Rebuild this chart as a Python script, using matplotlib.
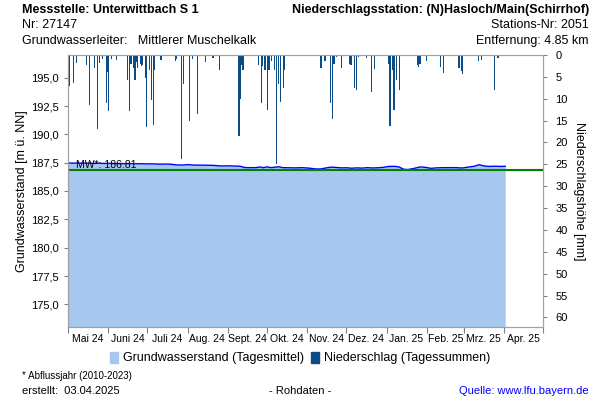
import numpy as np
import matplotlib
matplotlib.use("Agg")
import matplotlib.pyplot as plt
from matplotlib.patches import Patch
from datetime import date, timedelta

plt.rcParams['font.family'] = ['Liberation Sans', 'DejaVu Sans']

# Daten
start = date(2024, 5, 1)

# Grundwasserstand (Tag seit 01.05.2024, m ü. NN)
gw_days = [0, 4, 8, 12, 16, 20, 24, 28, 32, 36, 40, 44, 48, 52, 56, 60, 64, 68, 72, 76,
           80, 84, 88, 92, 96, 100, 104, 108, 112, 116, 120, 124, 128, 132, 136, 140, 144,
           148, 150, 153, 156, 160, 162, 165, 170, 175, 180, 185, 190, 194, 198, 202, 205,
           210, 214, 218, 222, 226, 230, 234, 238, 242, 246, 250, 254, 258, 261, 264, 268,
           271, 275, 279, 283, 288, 293, 298, 303, 307, 312, 316, 320, 324, 328, 332, 336]
gw_level = [187.47, 187.46, 187.47, 187.45, 187.46, 187.44, 187.45, 187.43, 187.44, 187.42,
            187.43, 187.41, 187.42, 187.40, 187.41, 187.39, 187.40, 187.38, 187.37, 187.38,
            187.35, 187.30, 187.29, 187.33, 187.29, 187.28, 187.28, 187.27, 187.26, 187.22,
            187.21, 187.22, 187.20, 187.19, 187.07, 187.06, 187.06, 187.12, 187.05, 187.13,
            187.06, 187.11, 187.14, 187.06, 187.05, 187.04, 187.06, 187.02, 186.95, 186.94,
            187.03, 187.10, 187.09, 187.04, 187.05, 187.01, 187.04, 187.02, 187.06, 187.03,
            187.05, 187.08, 187.16, 187.18, 187.14, 186.92, 186.89, 186.95, 187.05, 187.13,
            187.08, 187.00, 187.04, 187.06, 187.06, 187.06, 187.03, 187.10, 187.18, 187.32,
            187.20, 187.17, 187.19, 187.17, 187.18]
mw = 186.81

# Niederschlag (Tag seit 01.05.2024, mm)
rain_days = [1, 4, 6, 14, 16, 20, 22, 24, 26, 29, 30, 31, 33, 37, 45, 47, 48, 50, 51, 52,
             53, 55, 56, 57, 59, 60, 62, 64, 65, 66, 71, 82, 83, 87, 88, 93, 95, 99, 105,
             111, 116, 131, 132, 133, 134, 146, 148, 149, 151, 153, 154, 156, 158, 160,
             161, 163, 165, 166, 175, 194, 197, 201, 203, 204, 206, 210, 216, 217, 220,
             221, 223, 229, 233, 235, 246, 247, 249, 250, 252, 254, 268, 269, 270, 275,
             286, 288, 300, 302, 303, 315, 317, 327, 330]
rain_mm = [7.2, 6.5, 1.9, 2.3, 11.4, 3.0, 17.0, 1.9, 1.0, 11.0, 3.8, 12.8, 1.0, 1.2, 5.7,
           12.7, 2.0, 3.0, 5.7, 1.5, 3.0, 2.0, 2.5, 2.2, 5.3, 16.4, 3.5, 10.3, 16.0, 3.5,
           1.2, 1.3, 1.0, 23.8, 6.6, 15.0, 1.0, 13.5, 1.7, 0.6, 3.5, 18.6, 10.0, 2.3, 3.5,
           2.3, 11.0, 2.6, 3.5, 12.6, 3.5, 1.3, 3.5, 25.0, 6.6, 10.7, 7.6, 3.5, 0.3, 3.0,
           1.3, 11.0, 14.7, 2.0, 0.5, 3.0, 2.0, 2.3, 7.5, 8.0, 0.5, 0.8, 8.4, 3.2, 2.0,
           16.2, 3.5, 12.6, 5.7, 8.0, 2.3, 2.7, 2.0, 1.3, 2.7, 4.2, 3.0, 3.7, 4.3, 1.3,
           1.2, 8.0, 0.8]

month_labels = ["Mai 24", "Juni 24", "Juli 24", "Aug. 24", "Sept. 24", "Okt. 24",
                "Nov. 24", "Dez. 24", "Jan. 25", "Feb. 25", "Mrz. 25", "Apr. 25"]

gw_dates = [start + timedelta(days=d) for d in gw_days]
rain_dates = [start + timedelta(days=d) for d in rain_days]

fig = plt.figure(figsize=(6, 4), dpi=100)
ax = fig.add_axes([0.1133, 0.1825, 0.7917, 0.68])

ax.fill_between(gw_dates, 170, gw_level, color='#a6c8ef', lw=0)
ax.plot(gw_dates, gw_level, color='#0000ff', lw=1)
ax.axhline(mw, color='#008000', lw=1.5)
ax.text(start + timedelta(days=6), 187.25, "MW*: %.2f" % mw, fontsize=7.5,
        va='center', ha='left')

ax.set_ylim(173.0, 197.0)
ax.set_yticks(np.arange(175, 196, 2.5))
ax.set_yticklabels([("%.1f" % v).replace('.', ',') for v in np.arange(175, 196, 2.5)])
ax.set_ylabel("Grundwasserstand [m ü. NN]", fontsize=9, labelpad=2)

# x-Achse: Monatsanfang als Striche, Beschriftung Monatsmitte
month_starts = [date(2024 + (4 + i) // 12, (4 + i) % 12 + 1, 1) for i in range(13)]
mids = [month_starts[i] + (month_starts[i + 1] - month_starts[i]) / 2 for i in range(12)]
ax.set_xlim(month_starts[0], month_starts[-1])
ax.set_xticks(month_starts)
ax.set_xticklabels([])
ax.set_xticks(mids, minor=True)
ax.set_xticklabels(month_labels, minor=True, fontsize=7.5)
ax.tick_params(axis='x', which='major', length=4, color='#808080')
ax.tick_params(axis='x', which='minor', length=0, pad=5)
ax.tick_params(axis='y', labelsize=8, length=3, color='#808080')

ax2 = ax.twinx()
ax2.bar(rain_dates, rain_mm, width=0.9, color='#0b4c86', lw=0, align='edge')
ax2.set_ylim(62.2, 0)
ax2.set_yticks(np.arange(0, 61, 5))
ax2.tick_params(axis='y', labelsize=8, length=3, color='#808080', pad=6)
ax2.set_ylabel("Niederschlagshöhe [mm]", fontsize=9, rotation=-90, labelpad=12)
ax2.set_xlim(month_starts[0], month_starts[-1])

for a in (ax, ax2):
    for s in a.spines.values():
        s.set_color('#a0a0a0')

# Kopf
fig.text(22 / 600, 1 - 10 / 400, "Messstelle: Unterwittbach S 1", fontsize=9,
         fontweight='bold', va='center')
fig.text(22 / 600, 1 - 25 / 400, "Nr: 27147", fontsize=9, va='center')
fig.text(22 / 600, 1 - 41 / 400, "Grundwasserleiter:   Mittlerer Muschelkalk", fontsize=9,
         va='center')
fig.text(589 / 600, 1 - 10 / 400, "Niederschlagsstation: (N)Hasloch/Main(Schirrhof)",
         fontsize=9, fontweight='bold', va='center', ha='right')
fig.text(589 / 600, 1 - 25 / 400, "Stations-Nr: 2051", fontsize=9, va='center', ha='right')
fig.text(589 / 600, 1 - 41 / 400, "Entfernung: 4.85 km", fontsize=9, va='center', ha='right')

# Legende
handles = [Patch(color='#a6c8ef', label="Grundwasserstand (Tagesmittel)"),
           Patch(color='#0b4c86', label="Niederschlag (Tagessummen)")]
fig.legend(handles=handles, loc='center', bbox_to_anchor=(0.5, 1 - 358 / 400), ncol=2,
           frameon=False, fontsize=9, handlelength=0.6, handleheight=1.0,
           handletextpad=0.4, columnspacing=0.6)

# Fuss
fig.text(22 / 600, 1 - 376 / 400, "* Abflussjahr (2010-2023)", fontsize=7, va='center')
fig.text(22 / 600, 1 - 391 / 400, "erstellt:  03.04.2025", fontsize=8, va='center')
fig.text(0.5, 1 - 391 / 400, "- Rohdaten -", fontsize=8, va='center', ha='center')
fig.text(589 / 600, 1 - 391 / 400, "Quelle: www.lfu.bayern.de", fontsize=8, va='center',
         ha='right', color='#0000ff')

fig.savefig("out.png", dpi=100)
